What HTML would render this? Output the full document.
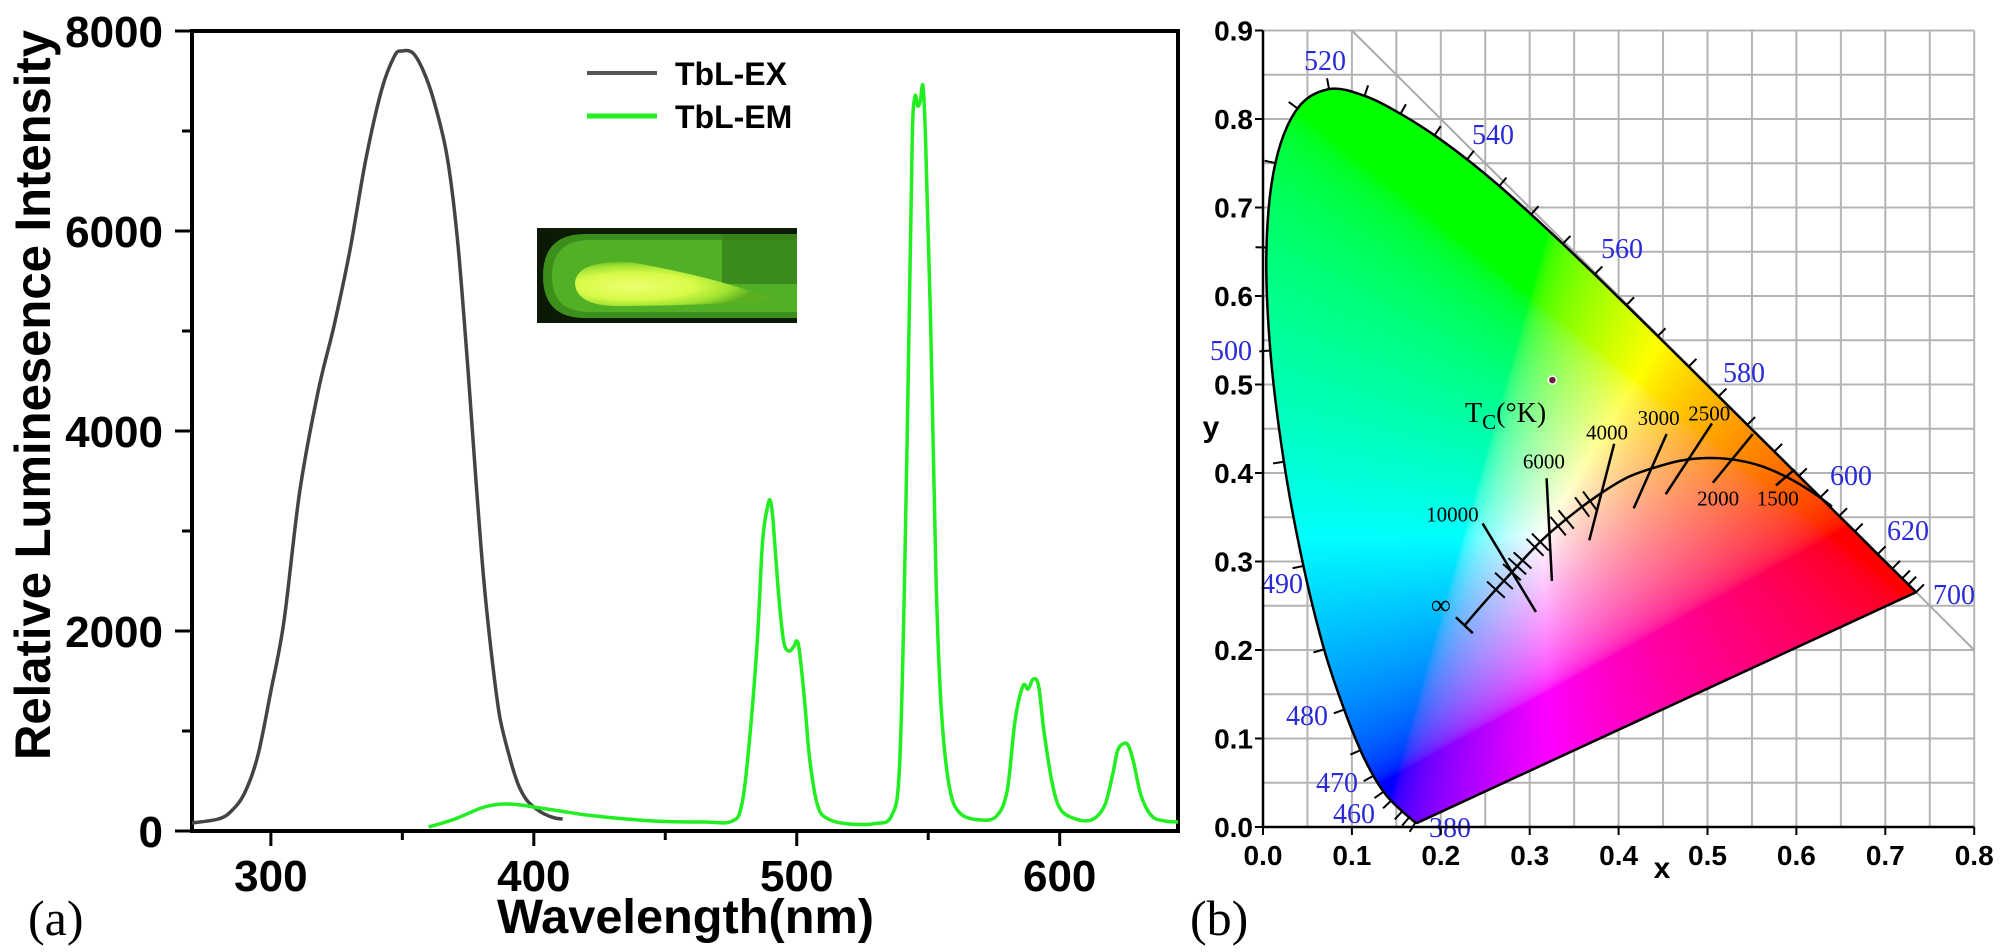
<!DOCTYPE html>
<html><head><meta charset="utf-8">
<style>
html,body{margin:0;padding:0;background:#fff;}
#wrap{position:relative;width:2000px;height:952px;overflow:hidden;background:#fff;}
svg,canvas{position:absolute;left:0;top:0;}
</style></head>
<body>
<div id="wrap">
<svg id="svgA" width="2000" height="952"></svg>
<svg id="svgGrid" width="2000" height="952"></svg>
<canvas id="cie" width="2000" height="952"></canvas>
<svg id="svgB" width="2000" height="952"></svg>
</div>
<script>
// ---------- Chart (a) data ----------
const exWl = [270,280,285,290,295,300,305,311,318,324,330,336,342,347,350,354,358,362,367,371,375,378,381,384,387,391,394,397,400,404,408,411];
const exVal = [80,120,200,380,750,1400,2100,3400,4400,5050,5800,6700,7400,7750,7800,7780,7600,7300,6750,5900,4600,3500,2500,1750,1150,720,470,320,240,170,130,120];
const emWl = [360,370,380,386,390,395,400,410,420,435,450,465,475,479,482,485,487,489,490,491,493,495,497,499,500,501,503,505,508,512,520,530,536,539,541,543,544,545,546,547,548,549,551,553,555,558,562,570,576,580,583,586,588,590,592,594,597,600,605,612,617,620,622,624,626,628,631,635,640,645];
const emVal = [40,120,230,265,270,260,240,200,160,120,95,90,95,250,900,1900,2900,3250,3300,3100,2400,1900,1800,1850,1900,1800,1300,700,250,120,70,75,150,600,2500,5500,7000,7350,7250,7300,7450,6900,5000,2500,1200,450,180,110,150,400,1100,1450,1420,1520,1450,1000,500,230,130,110,250,550,800,870,860,700,350,150,100,90];
const yTicks = [0,2000,4000,6000,8000];
const yTickLabels = ["0","2000","4000","6000","8000"];
const xTicks = [300,400,500,600];
const xTickLabels = ["300","400","500","600"];
const xMinor = [350,450,550];
const yMinor = [1000,3000,5000,7000];

// ---------- Chart (b) data ----------
const locWl = [380,420,440,450,460,465,470,475,480,485,490,495,500,505,510,515,520,525,530,535,540,545,550,555,560,565,570,575,580,585,590,595,600,605,610,620,630,640,650,700];
const locX = [0.1741,0.1714,0.1644,0.1566,0.1440,0.1355,0.1241,0.1096,0.0913,0.0687,0.0454,0.0235,0.0082,0.0039,0.0139,0.0389,0.0743,0.1142,0.1547,0.1929,0.2296,0.2658,0.3016,0.3373,0.3731,0.4087,0.4441,0.4788,0.5125,0.5448,0.5752,0.6029,0.6270,0.6482,0.6658,0.6915,0.7079,0.7190,0.7260,0.7347];
const locY = [0.0050,0.0051,0.0109,0.0177,0.0297,0.0399,0.0578,0.0868,0.1327,0.2007,0.2950,0.4127,0.5384,0.6548,0.7502,0.8120,0.8338,0.8262,0.8059,0.7816,0.7543,0.7243,0.6923,0.6589,0.6245,0.5896,0.5547,0.5202,0.4866,0.4544,0.4242,0.3965,0.3725,0.3514,0.3340,0.3083,0.2920,0.2809,0.2740,0.2653];
const wlLabels = ["520","540","560","580","600","620","700","500","490","480","470","460","380"];
const wlLabelPx = [[1325,60],[1493,134],[1622,248],[1744,372],[1851,475],[1908,530],[1954,594],[1231,350],[1282,583],[1307,715],[1337,782],[1354,813],[1450,827]];
const planckX = [0.227,0.25,0.28,0.30,0.32,0.35,0.38,0.41,0.44,0.47,0.50,0.53,0.56,0.59,0.62,0.64];
const planckY = [0.228,0.255,0.288,0.31,0.33,0.355,0.377,0.395,0.406,0.414,0.417,0.415,0.408,0.395,0.377,0.362];
const isoTemps = ["10000","6000","4000","3000","2500","2000","1500"];
const isoX1 = [0.247,0.319,0.395,0.454,0.505,0.551,0.598];
const isoY1 = [0.343,0.394,0.433,0.444,0.456,0.444,0.404];
const isoX2 = [0.307,0.325,0.367,0.417,0.453,0.506,0.577];
const isoY2 = [0.243,0.278,0.324,0.360,0.376,0.389,0.386];
const isoLabelX = [0.213,0.316,0.387,0.445,0.502,0.512,0.579];
const isoLabelY = [0.353,0.413,0.446,0.462,0.467,0.371,0.371];
const smallTickIdx = [1.4,1.7,2.0,2.3,2.6,3.3,3.6,4.4,4.7,5.3,5.6];
const cieXTicks = [0,0.1,0.2,0.3,0.4,0.5,0.6,0.7,0.8];
const cieYTicks = [0,0.1,0.2,0.3,0.4,0.5,0.6,0.7,0.8,0.9];

const NS = "http://www.w3.org/2000/svg";
function mk(parent, tag, attrs, text){
  const e = document.createElementNS(NS, tag);
  for (const k in attrs) e.setAttribute(k, attrs[k]);
  if (text !== undefined) e.textContent = text;
  parent.appendChild(e);
  return e;
}
function smooth(pts, closed){
  const n = pts.length;
  const P = i => closed ? pts[(i+n)%n] : pts[Math.max(0,Math.min(n-1,i))];
  let d = 'M'+pts[0][0].toFixed(1)+','+pts[0][1].toFixed(1);
  const last = closed ? n : n-1;
  for (let i=0;i<last;i++){
    const p0=P(i-1), p1=P(i), p2=P(i+1), p3=P(i+2);
    const c1=[p1[0]+(p2[0]-p0[0])/6, p1[1]+(p2[1]-p0[1])/6];
    const c2=[p2[0]-(p3[0]-p1[0])/6, p2[1]-(p3[1]-p1[1])/6];
    d += ' C'+c1[0].toFixed(1)+','+c1[1].toFixed(1)+' '+c2[0].toFixed(1)+','+c2[1].toFixed(1)+' '+p2[0].toFixed(1)+','+p2[1].toFixed(1);
  }
  if (closed) d += ' Z';
  return d;
}

// ===== Chart (a) =====
const A = document.getElementById('svgA');
const L = 192, R = 1178, T = 31, B = 831;
const xA = nm => L + (nm - 270) * (R - L) / (645 - 270);
const yA = v => B - v * (B - T) / 8000;

let e;
e = mk(A,'rect',{x:L,y:T,width:R-L,height:B-T,fill:'none',stroke:'#000','stroke-width':4});
 
yTicks.forEach((v,i)=>{
  e = mk(A,'line',{x1:L-17,x2:L,y1:yA(v),y2:yA(v),stroke:'#000','stroke-width':3});
   
  e = mk(A,'text',{x:163,y:yA(v)+16,'text-anchor':'end','font-family':'Liberation Sans, sans-serif','font-weight':'bold','font-size':44},yTickLabels[i]);
   
});
yMinor.forEach(v=>{
  e = mk(A,'line',{x1:L-10,x2:L,y1:yA(v),y2:yA(v),stroke:'#000','stroke-width':3});
   
});
xTicks.forEach((v,i)=>{
  e = mk(A,'line',{x1:xA(v),x2:xA(v),y1:B,y2:B+15,stroke:'#000','stroke-width':3});
   
  e = mk(A,'text',{x:xA(v),y:891,'text-anchor':'middle','font-family':'Liberation Sans, sans-serif','font-weight':'bold','font-size':44},xTickLabels[i]);
   
});
xMinor.forEach(v=>{
  e = mk(A,'line',{x1:xA(v),x2:xA(v),y1:B,y2:B+9,stroke:'#000','stroke-width':3});
   
});
e = mk(A,'text',{x:0,y:0,transform:'translate(50,395) rotate(-90)','text-anchor':'middle','font-family':'Liberation Sans, sans-serif','font-weight':'bold','font-size':50,textLength:730,lengthAdjust:'spacingAndGlyphs'},'Relative Luminesence Intensity');
 
e = mk(A,'text',{x:497,y:933,'font-family':'Liberation Sans, sans-serif','font-weight':'bold','font-size':48,textLength:377,lengthAdjust:'spacingAndGlyphs'},'Wavelength(nm)');
 
e = mk(A,'text',{x:28,y:935,'font-family':'Liberation Serif, serif','font-size':50},'(a)');
 

function pathFrom(xs, ys){ return smooth(xs.map((x,i)=>[xA(x), yA(ys[i])]), false); }
e = mk(A,'path',{d:pathFrom(exWl,exVal),fill:'none',stroke:'#444','stroke-width':3.5,'stroke-linejoin':'round'});
 
e = mk(A,'path',{d:pathFrom(emWl,emVal),fill:'none',stroke:'#22ee22','stroke-width':3.5,'stroke-linejoin':'round'});
 

e = mk(A,'line',{x1:587,x2:657,y1:73,y2:73,stroke:'#555','stroke-width':4});
 
e = mk(A,'text',{x:675,y:85,'font-family':'Liberation Sans, sans-serif','font-weight':'bold','font-size':32},'TbL-EX');
 
e = mk(A,'line',{x1:587,x2:657,y1:116,y2:116,stroke:'#22ee22','stroke-width':5});
 
e = mk(A,'text',{x:675,y:128,'font-family':'Liberation Sans, sans-serif','font-weight':'bold','font-size':32},'TbL-EM');
 

const defs = mk(A,'defs',{});
const rg = mk(defs,'radialGradient',{id:'glow',cx:'0.3',cy:'0.55',r:'0.6'});
mk(rg,'stop',{offset:'0','stop-color':'#eeff70'});
mk(rg,'stop',{offset:'0.5','stop-color':'#d8fa48'});
mk(rg,'stop',{offset:'0.8','stop-color':'#9be030'});
mk(rg,'stop',{offset:'1','stop-color':'#5cb020'});
const g = mk(A,'g',{});
 
mk(g,'rect',{x:537,y:228,width:260,height:95,fill:'#0a1a05'});
mk(g,'path',{d:'M797,234 L585,234 Q543,234 543,276 Q543,318 585,318 L797,318 Z',fill:'#3d8f1c'});
mk(g,'path',{d:'M797,240 L590,240 Q552,240 552,277 Q552,312 590,312 L797,312 Z',fill:'#52b026'});
mk(g,'rect',{x:722,y:234,width:75,height:50,fill:'#327c18',opacity:0.7});
mk(g,'path',{d:'M775,300 Q720,278 630,262 Q578,260 575,282 Q575,305 615,306 Q700,306 775,300 Z',fill:'url(#glow)'});

// ===== Chart (b) =====
const X0 = 1263, Y0 = 827, SX = 889, SY = 885;
const xB = v => X0 + v*SX;
const yB = v => Y0 - v*SY;
const G = document.getElementById('svgGrid');
for (let i=0;i<=16;i++){
  const v=i*0.05;
  e = mk(G,'line',{x1:xB(v),x2:xB(v),y1:yB(0),y2:yB(0.9),stroke:'#b4b4b4','stroke-width':2});
   
}
for (let i=0;i<=18;i++){
  const v=i*0.05;
  e = mk(G,'line',{x1:xB(0),x2:xB(0.8),y1:yB(v),y2:yB(v),stroke:'#b4b4b4','stroke-width':2});
   
}
e = mk(G,'line',{x1:xB(0.1),y1:yB(0.9),x2:xB(0.8),y2:yB(0.2),stroke:'#aaa','stroke-width':2});
 

const locPts = locX.map((x,i)=>[xB(x), yB(locY[i])]);
const locD = smooth(locPts,false) + ' Z';

const cv = document.getElementById('cie');
const ctx = cv.getContext('2d');
const off = document.createElement('canvas');
off.width = 2000; off.height = 952;
const octx = off.getContext('2d');
const bx0 = Math.floor(xB(0)), bx1 = Math.ceil(xB(0.75)), by0 = Math.floor(yB(0.85)), by1 = Math.ceil(yB(0));
const img = octx.createImageData(bx1-bx0, by1-by0);
function gam(c){ c = Math.max(0,c); return c<=0.0031308 ? 12.92*c : 1.055*Math.pow(c,1/2.4)-0.055; }
for (let py=by0; py<by1; py++){
  for (let px=bx0; px<bx1; px++){
    const cx=(px-X0)/SX, cy=Math.max(0.003,(Y0-py)/SY);
    const Xv=cx/cy, Yv=1, Zv=(1-cx-cy)/cy;
    let r= 3.2406*Xv-1.5372*Yv-0.4986*Zv;
    let gg=-0.9689*Xv+1.8758*Yv+0.0415*Zv;
    let b= 0.0557*Xv-0.2040*Yv+1.0570*Zv;
    r=Math.max(0,r); gg=Math.max(0,gg); b=Math.max(0,b);
    const m=Math.max(r,gg,b)||1;
    const idx=((py-by0)*(bx1-bx0)+(px-bx0))*4;
    img.data[idx]=255*gam(r/m); img.data[idx+1]=255*gam(gg/m); img.data[idx+2]=255*gam(b/m); img.data[idx+3]=255;
  }
}
octx.putImageData(img,bx0,by0);
ctx.save();
ctx.clip(new Path2D(locD));
ctx.drawImage(off,0,0);
ctx.restore();

const S = document.getElementById('svgB');
e = mk(S,'path',{d:locD,fill:'none',stroke:'#000','stroke-width':2.5,'stroke-linejoin':'round'});
 
for (let i=1;i<locX.length;i++){
  const p0=locPts[i-1];
  const p1=locPts[Math.min(i+1,locX.length-1)];
  const p=locPts[i];
  let tx=p1[0]-p0[0], ty=p1[1]-p0[1]; const n=Math.hypot(tx,ty)||1;
  let nx=ty/n, ny=-tx/n;
  e = mk(S,'line',{x1:p[0],y1:p[1],x2:p[0]+nx*11,y2:p[1]+ny*11,stroke:'#000','stroke-width':2});
   
}
wlLabels.forEach((t,i)=>{
  e = mk(S,'text',{x:wlLabelPx[i][0],y:wlLabelPx[i][1]+10,'text-anchor':'middle','font-family':'Liberation Serif, serif','font-size':28,fill:'#2a2ad8'},t);
   
});
e = mk(S,'path',{d:smooth(planckX.map((x,i)=>[xB(x),yB(planckY[i])]),false),fill:'none',stroke:'#000','stroke-width':2.5,'stroke-linejoin':'round'});
 
e = mk(S,'line',{x1:xB(0.217),y1:yB(0.237),x2:xB(0.236),y2:yB(0.219),stroke:'#000','stroke-width':2.5});
 
smallTickIdx.forEach(f=>{
  const i=Math.floor(f), t=f-i;
  const px=xB(planckX[i]+(planckX[i+1]-planckX[i])*t), py=yB(planckY[i]+(planckY[i+1]-planckY[i])*t);
  const tx=xB(planckX[i+1])-xB(planckX[i]), ty=yB(planckY[i+1])-yB(planckY[i]); const n=Math.hypot(tx,ty);
  const nx=ty/n, ny=-tx/n;
  e = mk(S,'line',{x1:px-nx*12,y1:py-ny*12,x2:px+nx*12,y2:py+ny*12,stroke:'#000','stroke-width':2});
   
});
isoTemps.forEach((t,i)=>{
  e = mk(S,'line',{x1:xB(isoX1[i]),y1:yB(isoY1[i]),x2:xB(isoX2[i]),y2:yB(isoY2[i]),stroke:'#000','stroke-width':2.5});
   
  e = mk(S,'text',{x:xB(isoLabelX[i]),y:yB(isoLabelY[i])+7,'text-anchor':'middle','font-family':'Liberation Serif, serif','font-size':21,fill:'#000'},t);
   
});
e = mk(S,'text',{x:xB(0.200),y:yB(0.250)+8,'text-anchor':'middle','font-family':'Liberation Serif, DejaVu Serif, serif','font-size':28},'∞');
 
e = mk(S,'text',{x:1465,y:422,'font-family':'Liberation Serif, serif','font-size':28},'');
 
mk(e,'tspan',{},'T');
mk(e,'tspan',{dy:7,'font-size':21},'C');
mk(e,'tspan',{dy:-7},'(°K)');

e = mk(S,'line',{x1:X0,y1:yB(0),x2:X0,y2:yB(0.9),stroke:'#000','stroke-width':2.5});
 
e = mk(S,'line',{x1:X0,y1:Y0,x2:xB(0.8),y2:Y0,stroke:'#000','stroke-width':2.5});
 
cieXTicks.forEach(v=>{
  e = mk(S,'line',{x1:xB(v),x2:xB(v),y1:Y0,y2:Y0+8,stroke:'#000','stroke-width':2});
   
  e = mk(S,'text',{x:xB(v),y:Y0+38,'text-anchor':'middle','font-family':'Liberation Sans, sans-serif','font-weight':'bold','font-size':28},v.toFixed(1));
   
});
cieYTicks.forEach(v=>{
  e = mk(S,'line',{x1:X0-8,x2:X0,y1:yB(v),y2:yB(v),stroke:'#000','stroke-width':2});
   
  e = mk(S,'text',{x:X0-10,y:yB(v)+10,'text-anchor':'end','font-family':'Liberation Sans, sans-serif','font-weight':'bold','font-size':28},v.toFixed(1));
   
});
e = mk(S,'text',{x:1211,y:437,'text-anchor':'middle','font-family':'Liberation Sans, sans-serif','font-weight':'bold','font-size':30},'y');
 
e = mk(S,'text',{x:1662,y:878,'text-anchor':'middle','font-family':'Liberation Sans, sans-serif','font-weight':'bold','font-size':30},'x');
 
e = mk(S,'text',{x:1190,y:935,'font-family':'Liberation Serif, serif','font-size':50},'(b)');
 
e = mk(S,'circle',{cx:xB(0.3255),cy:yB(0.505),r:4,fill:'#6a1a3a',stroke:'#fff','stroke-width':1.5});
 
</script>
</body></html>
